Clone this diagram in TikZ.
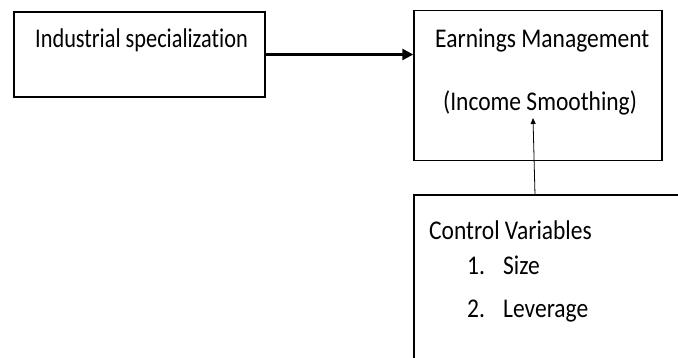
\documentclass[tikz,border=0pt]{standalone}
\usepackage{graphicx}
\usepackage{fontspec}
\setmainfont{Carlito}[Ligatures=NoCommon]
\usetikzlibrary{arrows.meta}
\newcommand\tallt[2][1]{\scalebox{#1}[1.15]{#2}}
\begin{document}
\begin{tikzpicture}[x=1pt,y=-1pt,
  box/.style={draw=black,line width=1.4pt,rectangle,inner sep=0pt},
  lbl/.style={anchor=base west,inner sep=0pt,font=\fontsize{23.5}{28}\selectfont},
  thickarrow/.style={line width=2.4pt,-{Triangle[length=11pt,width=11pt]}},
  thinarrow/.style={line width=0.8pt,-{Triangle[length=6pt,width=5pt]}}]
\useasboundingbox (0,0) rectangle (678,358);
\clip (0,0) rectangle (678,358);
\fill[white] (0,0) rectangle (678,358);
% boxes
\node[box,minimum width=251pt,minimum height=85pt] (b1) at (139.5,54.5) {};
\node[box,minimum width=248pt,minimum height=150pt] (b2) at (538,85.5) {};
\node[box,minimum width=300pt,minimum height=200pt] (b3) at (564,295) {};
% texts
\node[lbl] (t1) at (35,48) {\tallt[0.95]{Industrial specialization}};
\node[lbl] (t2) at (435,48) {\tallt{Earnings Management}};
\node[lbl] (t3) at (443,111) {\tallt{(Income Smoothing)}};
\node[lbl] (t4) at (429,240) {\tallt{Control Variables}};
\node[lbl] (t5) at (467,275) {\tallt{1.}};
\node[lbl] (t6) at (503,275) {\tallt{Size}};
\node[lbl] (t7) at (467,318) {\tallt{2.}};
\node[lbl] (t8) at (503,318) {\tallt{Leverage}};
% connectors
\draw[thickarrow] (b1.east) -- (b1.east -| b2.west);
\coordinate (tail) at (535,195);
\coordinate (tip) at (533,118);
\draw[thinarrow] (tail) -- (tip);
\end{tikzpicture}
\end{document}
